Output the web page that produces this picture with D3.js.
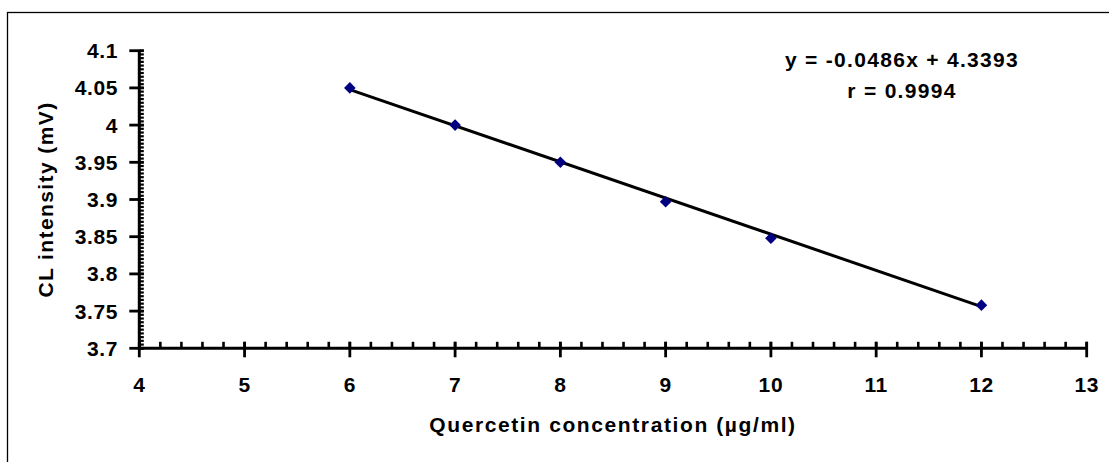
<!DOCTYPE html>
<html>
<head>
<meta charset="utf-8">
<script src="https://cdn.jsdelivr.net/npm/d3@7"></script>
<style>
  html, body { margin: 0; padding: 0; background: #fff; }
  svg { display: block; }
  text { font-family: "Liberation Sans", Arial, sans-serif; font-weight: bold; fill: #000; }
</style>
</head>
<body>
<svg id="chart" width="1109" height="462"></svg>
<script>
// Data
const concentrations = [6, 7, 8, 9, 10, 12];
const intensities = [4.05, 4.0, 3.95, 3.897, 3.848, 3.758];
const xTicks = [4, 5, 6, 7, 8, 9, 10, 11, 12, 13];
const yTicks = [3.7, 3.75, 3.8, 3.85, 3.9, 3.95, 4.0, 4.05, 4.1];
const yTickLabels = ["3.7", "3.75", "3.8", "3.85", "3.9", "3.95", "4", "4.05", "4.1"];
const slope = -0.0486, intercept = 4.3393;
const equationLines = ["y = -0.0486x + 4.3393", "r = 0.9994"];
const xTitle = "Quercetin concentration (µg/ml)";
const yTitle = "CL intensity (mV)";

const svg = d3.select("#chart");
const plotLeft = 139.3, plotRight = 1086.7, plotTop = 50.7, plotBottom = 348.3;
const FS = 21;

// outer border
svg.append("rect").attr("x", 7.5).attr("y", 12.5).attr("width", 1120).attr("height", 470)
  .attr("fill", "none").attr("stroke", "#000").attr("stroke-width", 1.3);

const x = d3.scaleLinear().domain([4, 13]).range([plotLeft, plotRight]);
const y = d3.scaleLinear().domain([3.7, 4.1]).range([plotBottom, plotTop]);

// minor ticks
const xMinor = d3.range(4, 13.0001, 0.2).map(v => +v.toFixed(2));
const yMinor = d3.range(3.7, 4.1001, 0.005).map(v => +v.toFixed(3));

const g = svg.append("g");
g.selectAll(".xminor").data(xMinor).join("line")
  .attr("x1", d => x(d)).attr("x2", d => x(d))
  .attr("y1", plotBottom - 6.5).attr("y2", plotBottom)
  .attr("stroke", "#000").attr("stroke-width", 2.6);
g.selectAll(".yminor").data(yMinor).join("line")
  .attr("x1", plotLeft).attr("x2", plotLeft + 4.5)
  .attr("y1", d => y(d)).attr("y2", d => y(d))
  .attr("stroke", "#000").attr("stroke-width", 2.2);

// major ticks
g.selectAll(".xmajor").data(xTicks).join("line")
  .attr("x1", d => x(d)).attr("x2", d => x(d))
  .attr("y1", plotBottom - 6.5).attr("y2", plotBottom + 9)
  .attr("stroke", "#000").attr("stroke-width", 2.8);
g.selectAll(".ymajor").data(yTicks).join("line")
  .attr("x1", plotLeft - 10).attr("x2", plotLeft + 4.5)
  .attr("y1", d => y(d)).attr("y2", d => y(d))
  .attr("stroke", "#000").attr("stroke-width", 2.8);

// axis lines
g.append("line").attr("x1", plotLeft).attr("x2", plotRight).attr("y1", plotBottom).attr("y2", plotBottom)
  .attr("stroke", "#000").attr("stroke-width", 3);
g.append("line").attr("x1", plotLeft).attr("x2", plotLeft).attr("y1", plotTop).attr("y2", plotBottom + 1.5)
  .attr("stroke", "#000").attr("stroke-width", 3);

// tick labels
g.selectAll(".xlab").data(xTicks).join("text")
  .attr("x", d => x(d)).attr("y", 392).attr("text-anchor", "middle")
  .attr("font-size", FS).attr("letter-spacing", 0.6).text(d => d);
g.selectAll(".ylab").data(yTicks).join("text")
  .attr("x", 118).attr("y", d => y(d) + 7.5).attr("text-anchor", "end")
  .attr("font-size", FS).attr("letter-spacing", 0.6).text((d, i) => yTickLabels[i]);

// titles
svg.append("text").attr("x", (plotLeft + plotRight) / 2).attr("y", 432).attr("text-anchor", "middle")
  .attr("font-size", FS).attr("letter-spacing", 1.6).text(xTitle);
svg.append("text").attr("transform", `translate(53,${(plotTop + plotBottom) / 2}) rotate(-90)`)
  .attr("text-anchor", "middle").attr("font-size", FS).attr("letter-spacing", 1.4).text(yTitle);

// trendline
const xmin = d3.min(concentrations), xmax = d3.max(concentrations);
svg.append("line")
  .attr("x1", x(xmin)).attr("y1", y(slope * xmin + intercept))
  .attr("x2", x(xmax)).attr("y2", y(slope * xmax + intercept))
  .attr("stroke", "#000").attr("stroke-width", 3);

// markers
svg.selectAll(".pt").data(concentrations).join("path")
  .attr("transform", (d, i) => `translate(${x(d)},${y(intensities[i])})`)
  .attr("d", "M0,-5.8L5.8,0L0,5.8L-5.8,0Z")
  .attr("fill", "#000080");

// equation
svg.selectAll(".eq").data(equationLines).join("text")
  .attr("x", 902).attr("y", (d, i) => [67, 98][i]).attr("text-anchor", "middle")
  .attr("font-size", FS).attr("letter-spacing", 1.3).text(d => d);
</script>
</body>
</html>
